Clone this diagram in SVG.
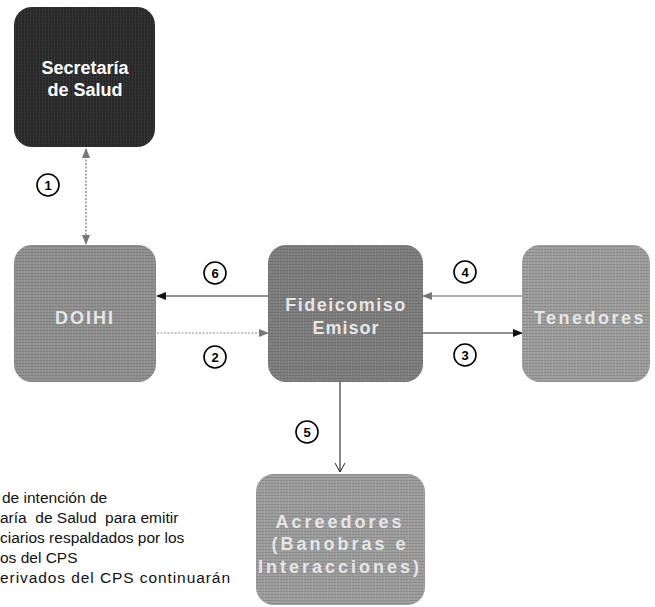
<svg xmlns="http://www.w3.org/2000/svg" width="655" height="607" viewBox="0 0 655 607">
<style>
.nt{font-family:"Liberation Sans",Arial,sans-serif;font-weight:bold;font-size:18px;text-anchor:middle;fill:#e6e6e6}
.num{font-family:"Liberation Sans",Arial,sans-serif;font-weight:bold;font-size:13px;text-anchor:middle;fill:#000}
.cir{fill:#fff;stroke:#000;stroke-width:1.6}
.note{font-family:"Liberation Sans",Arial,sans-serif;font-size:15.5px;fill:#111}
.tex{fill:url(#scan)}
</style>
<defs>
<pattern id="scan" width="3" height="3" patternUnits="userSpaceOnUse">
<rect x="0" y="0" width="3" height="1" fill="#000" fill-opacity="0.12"/>
<rect x="0" y="0" width="1" height="3" fill="#fff" fill-opacity="0.06"/>
</pattern>
<marker id="ab" markerWidth="10" markerHeight="8" refX="9" refY="4" orient="auto" markerUnits="userSpaceOnUse"><path d="M0,0 L10,4 L0,8 Z" fill="#111"/></marker>
<marker id="ag" markerWidth="10" markerHeight="8" refX="9" refY="4" orient="auto" markerUnits="userSpaceOnUse"><path d="M0,0 L10,4 L0,8 Z" fill="#777"/></marker>
<marker id="ag2" markerWidth="10" markerHeight="8" refX="9" refY="4" orient="auto-start-reverse" markerUnits="userSpaceOnUse"><path d="M0,0 L10,4 L0,8 Z" fill="#777"/></marker>
<marker id="av" markerWidth="10" markerHeight="10" refX="9" refY="5" orient="auto" markerUnits="userSpaceOnUse"><path d="M0,0 L9,5 L0,10" fill="none" stroke="#222" stroke-width="1"/></marker>
</defs>
<g id="connectors">
<line x1="86" y1="149" x2="86" y2="244" stroke="#777" stroke-width="1.2" stroke-dasharray="2,1.5" marker-start="url(#ag2)" marker-end="url(#ag2)"/>
<line x1="268" y1="296" x2="157" y2="296" stroke="#222" stroke-width="1.1" marker-end="url(#ab)"/>
<line x1="157" y1="333" x2="268" y2="333" stroke="#888" stroke-width="1.2" stroke-dasharray="2,1.5" marker-end="url(#ag)"/>
<line x1="522" y1="296" x2="423" y2="296" stroke="#666" stroke-width="1.1" marker-end="url(#ag)"/>
<line x1="423" y1="333" x2="522" y2="333" stroke="#222" stroke-width="1.1" marker-end="url(#ab)"/>
<line x1="340" y1="382" x2="340" y2="472" stroke="#222" stroke-width="1.1" marker-end="url(#av)"/>
</g>
<g id="secretaria">
<rect x="14" y="7" width="141" height="140" rx="18" fill="#2b2b2b"/>
<rect class="tex" x="14" y="7" width="141" height="140" rx="18"/>
<text class="nt" x="85" y="74" style="fill:#fff">Secretaría</text>
<text class="nt" x="85" y="96" style="fill:#fff">de Salud</text>
</g>
<g id="doihi">
<rect x="14" y="245" width="142" height="137" rx="18" fill="#909090"/>
<rect class="tex" x="14" y="245" width="142" height="137" rx="18"/>
<text class="nt" x="85" y="324" letter-spacing="2">DOIHI</text>
</g>
<g id="fideicomiso">
<rect x="268" y="245" width="155" height="137" rx="18" fill="#7e7e7e"/>
<rect class="tex" x="268" y="245" width="155" height="137" rx="18"/>
<text class="nt" x="346" y="311" letter-spacing="1.5">Fideicomiso</text>
<text class="nt" x="346" y="334" letter-spacing="1">Emisor</text>
</g>
<g id="tenedores">
<rect x="522" y="245" width="128" height="137" rx="18" fill="#9d9d9d"/>
<rect class="tex" x="522" y="245" width="128" height="137" rx="18"/>
<text class="nt" x="590" y="324" letter-spacing="2.5">Tenedores</text>
</g>
<g id="acreedores">
<rect x="256" y="474" width="169" height="131" rx="18" fill="#9d9d9d"/>
<rect class="tex" x="256" y="474" width="169" height="131" rx="18"/>
<text class="nt" x="340" y="528" letter-spacing="3">Acreedores</text>
<text class="nt" x="340" y="550" letter-spacing="3">(Banobras e</text>
<text class="nt" x="340" y="573" letter-spacing="3">Interacciones)</text>
</g>
<g id="labels">
<circle class="cir" cx="48" cy="185" r="11"/><text class="num" x="48" y="189.5">1</text>
<circle class="cir" cx="215" cy="273" r="11"/><text class="num" x="215" y="277.5">6</text>
<circle class="cir" cx="215" cy="357" r="11"/><text class="num" x="215" y="361.5">2</text>
<circle class="cir" cx="465" cy="272" r="11"/><text class="num" x="465" y="276.5">4</text>
<circle class="cir" cx="465" cy="355" r="11"/><text class="num" x="465" y="359.5">3</text>
<circle class="cir" cx="307" cy="432" r="11"/><text class="num" x="307" y="436.5">5</text>
</g>
<g id="note">
<text class="note" x="2" y="503">de intención de</text>
<text class="note" x="0" y="523" xml:space="preserve">aría  de Salud  para emitir</text>
<text class="note" x="0" y="543">ciarios respaldados por los</text>
<text class="note" x="0" y="563">os del CPS</text>
<text class="note" x="0" y="583" textLength="230" lengthAdjust="spacing">erivados del CPS continuarán</text>
</g>
</svg>
